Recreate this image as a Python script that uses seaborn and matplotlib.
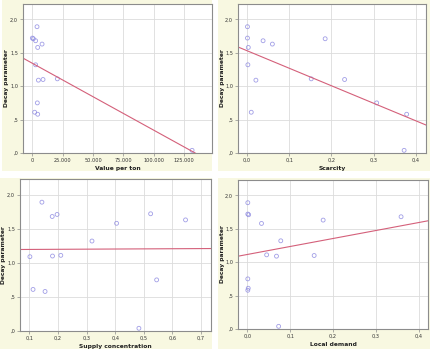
#!/usr/bin/env python3

import matplotlib
matplotlib.use("Agg")
import matplotlib.pyplot as plt
import matplotlib.patches as mpatches
import matplotlib.transforms as mtransforms
from matplotlib.ticker import FuncFormatter
import pandas as pd
import seaborn as sns

# Decay parameter for each of the 14 observations (same in all panels)
decay = [1.89, 1.72, 1.71, 1.68, 1.63, 1.58, 1.32, 1.11, 1.10, 1.09, 0.75, 0.61, 0.58, 0.04]

# Predictors, one per panel, same order as decay
value_per_ton = [3850, 0, 800, 2700, 8000, 4400, 2700, 20600, 8800, 5000, 4100, 1900, 4400, 131600]
scarcity = [0.001, 0.001, 0.185, 0.038, 0.060, 0.003, 0.002, 0.152, 0.231, 0.021, 0.307, 0.010, 0.378, 0.372]
supply_concentration = [0.144, 0.524, 0.197, 0.180, 0.646, 0.405, 0.319, 0.210, 0.181, 0.102, 0.545, 0.113, 0.155, 0.483]
local_demand = [0.001, 0.001, 0.003, 0.359, 0.177, 0.033, 0.078, 0.045, 0.156, 0.068, 0.001, 0.002, 0.001, 0.073]

x_labels = ["Value per ton", "Scarcity", "Supply concentration", "Local demand"]
y_label = "Decay parameter"

df = pd.DataFrame({
    "Decay parameter": decay,
    "Value per ton": value_per_ton,
    "Scarcity": scarcity,
    "Supply concentration": supply_concentration,
    "Local demand": local_demand,
})

CREAM = "#f8f8e1"
GRID = "#dcdcdc"
SPINE = "#8c8c8c"
MARK = "#8a86e0"
LINE = "#d4607a"

sns.set_theme(style="white")
plt.rcParams["font.family"] = ["DejaVu Sans"]

W, H = 430, 349
fig = plt.figure(figsize=(W / 100, H / 100), dpi=100)
fig.patch.set_facecolor("white")


def fx(px):
    return px / W


def fy(py):
    return 1 - py / H


# cream backdrop for each chart (x0, y0, x1, y1 in pixels)
backs = [(2, 0, 212, 171), (218, 0, 430, 171), (0, 178, 212, 349), (218, 178, 430, 349)]
for x0, y0, x1, y1 in backs:
    fig.patches.append(mpatches.Rectangle(
        (fx(x0), fy(y1)), fx(x1 - x0), (y1 - y0) / H,
        transform=fig.transFigure, facecolor=CREAM, edgecolor="none", zorder=-5))

# axes boxes in pixels: left, top, right, bottom
boxes = [(23, 4, 212, 153), (238, 4, 426, 153), (20, 179, 211, 331), (238, 180, 428, 329)]
# right edge (px) of the rotated y label
ylab_x = [9.5, 225, 6.5, 225]
xlims = [(-7700, 148000), (-0.0214, 0.4238), (0.0674, 0.735), (-0.0219, 0.4219)]
xticks = [
    [0, 25000, 50000, 75000, 100000, 125000],
    [0.0, 0.1, 0.2, 0.3, 0.4],
    [0.1, 0.2, 0.3, 0.4, 0.5, 0.6, 0.7],
    [0.0, 0.1, 0.2, 0.3, 0.4],
]


def thousands(v, pos):
    return f"{int(round(v)):,}".replace(",", ".")


def comma1(v, pos):
    return f"{abs(v):.1f}".replace(".", ",")


def ycomma(v, pos):
    s = f"{abs(v):.1f}".replace(".", ",")
    if s.startswith("0,"):
        s = s[1:]
    return s


for i, (l, t, r, b) in enumerate(boxes):
    ax = fig.add_axes([fx(l), fy(b), fx(r - l), (b - t) / H])
    ax.set_facecolor("white")
    ax.set_xlim(*xlims[i])
    ax.set_ylim(0, 2.23)
    sns.regplot(
        data=df, x=x_labels[i], y=y_label, ax=ax, ci=None, truncate=False,
        scatter_kws=dict(s=8, facecolors="none", edgecolors=MARK, linewidths=0.6),
        line_kws=dict(color=LINE, lw=0.8),
    )
    ax.set_xlim(*xlims[i])
    ax.set_ylim(0, 2.23)
    ax.set_xticks(xticks[i])
    ax.set_yticks([0, 0.5, 1.0, 1.5, 2.0])
    ax.xaxis.set_major_formatter(FuncFormatter(thousands if i == 0 else comma1))
    ax.yaxis.set_major_formatter(FuncFormatter(ycomma))
    ax.grid(True, color=GRID, lw=0.6)
    ax.set_axisbelow(True)
    for sp in ax.spines.values():
        sp.set_color(SPINE)
        sp.set_linewidth(0.8)
    ax.tick_params(axis="both", which="major", labelsize=3.6, length=2, width=0.5,
                   color=SPINE, pad=1.5, direction="out", bottom=True, left=True,
                   labelcolor="#333333")
    ax.set_xlabel(x_labels[i], fontsize=4.3, fontweight="bold", labelpad=2, color="#222222")
    ax.set_ylabel(y_label, fontsize=4.3, fontweight="bold", color="#222222")
    trans = mtransforms.blended_transform_factory(fig.transFigure, ax.transAxes)
    ax.yaxis.set_label_coords(fx(ylab_x[i]), 0.5, transform=trans)

fig.savefig("out.png", dpi=100, facecolor=fig.get_facecolor())
